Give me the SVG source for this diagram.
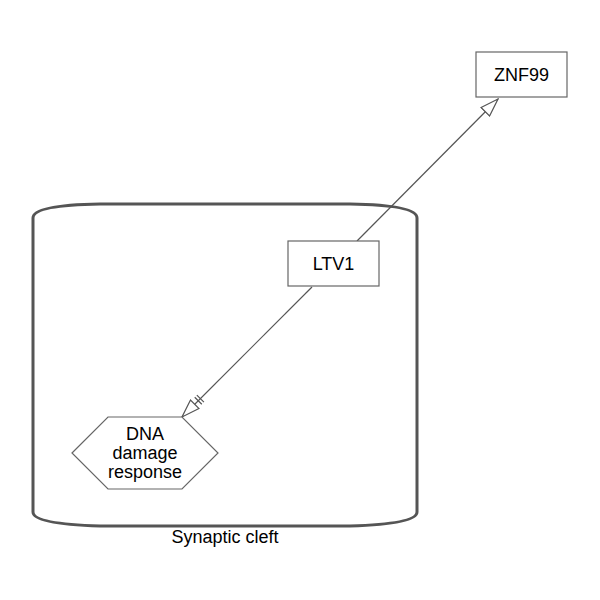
<svg xmlns="http://www.w3.org/2000/svg" width="600" height="600" viewBox="0 0 600 600">
<style>
.lbl{font-family:"Liberation Sans",Arial,sans-serif;font-size:18px;fill:#000;text-anchor:middle}
.node{fill:#fff;stroke:#666;stroke-width:1.2}
.edge{stroke:#555;stroke-width:1.2;fill:none}
</style>
<defs>
<marker id="tri" viewBox="0 0 20 14" refX="19" refY="7" markerWidth="20" markerHeight="14" markerUnits="userSpaceOnUse" orient="auto">
<path d="M1,1 L19,7 L1,13 Z" fill="#fff" stroke="#555" stroke-width="1.2"/>
</marker>
<marker id="tribar" viewBox="0 0 30 14" refX="29" refY="7" markerWidth="30" markerHeight="14" markerUnits="userSpaceOnUse" orient="auto">
<path d="M11,1 L29,7 L11,13 Z" fill="#fff" stroke="#555" stroke-width="1.2"/>
<path d="M3,2 L3,12 M6,2 L6,12" stroke="#555" stroke-width="1.2"/>
</marker>
</defs>
<g id="compartment">
<path d="M33,512 L33,218 Q33,205 100,204 L350,204 Q417,205 417,218 L417,512 Q417,524 350,526 L100,526 Q33,524 33,512 Z" fill="none" stroke="#555" stroke-width="3"/>
<text class="lbl" x="225" y="543">Synaptic cleft</text>
</g>
<g id="connectors">
<line class="edge" x1="357" y1="241" x2="498" y2="99" marker-end="url(#tri)"/>
<line class="edge" x1="312" y1="287" x2="182" y2="417" marker-end="url(#tribar)"/>
</g>
<g id="ZNF99">
<rect class="node" x="476" y="52" width="91" height="45"/>
<text class="lbl" x="521.5" y="81">ZNF99</text>
</g>
<g id="LTV1">
<rect class="node" x="288" y="241" width="91" height="45"/>
<text class="lbl" x="333.5" y="270">LTV1</text>
</g>
<g id="DNA">
<polygon class="node" points="72,453 108,417 182,417 218,453 182,489 108,489"/>
<text class="lbl" x="145" y="440">DNA</text>
<text class="lbl" x="145" y="459">damage</text>
<text class="lbl" x="145" y="478">response</text>
</g>
</svg>
